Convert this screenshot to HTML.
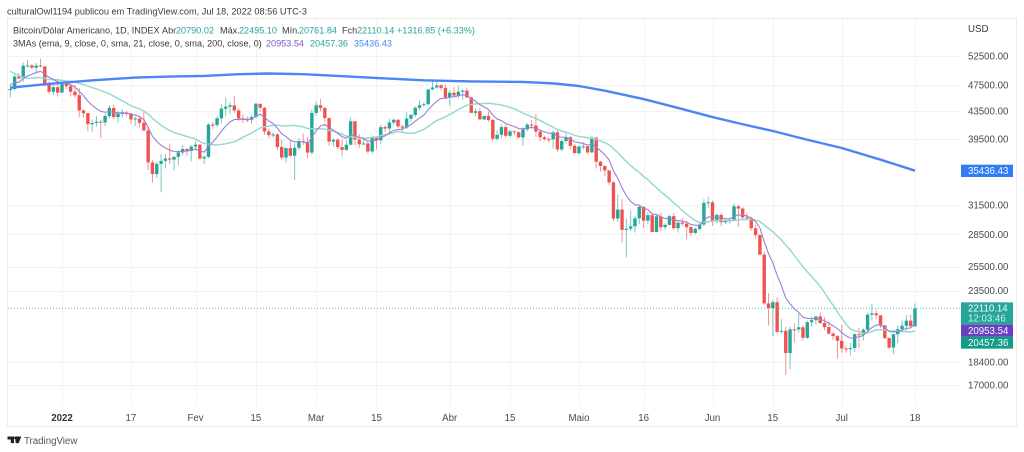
<!DOCTYPE html>
<html lang="pt">
<head>
<meta charset="utf-8">
<title>Bitcoin/Dólar Americano chart</title>
<style>
html,body{margin:0;padding:0;width:1024px;height:452px;overflow:hidden;background:#fff}
svg{display:block;filter:blur(0.35px);font-family:"Liberation Sans",sans-serif}
</style>
</head>
<body>
<svg id="chart" width="1024" height="452" viewBox="0 0 1024 452" xmlns="http://www.w3.org/2000/svg">
  <text x="7" y="14.5" font-size="9.2" fill="#3a3a3a">culturalOwl1194 publicou em TradingView.com, Jul 18, 2022 08:56 UTC-3</text>
  <rect x="7.5" y="18.5" width="1009" height="408" fill="none" stroke="#ececec" stroke-width="1"/>
  <g id="grid"></g>
  <g id="candles"></g>
  <g id="ma-lines"></g>
  <g id="price-axis"></g>
  <g id="time-axis"></g>

  <g font-size="9.1">
    <text x="13" y="33.3" fill="#3a3a3a">Bitcoin/Dólar Americano, 1D, INDEX</text>
    <text x="162" y="33.3" fill="#3a3a3a">Abr</text>
    <text x="176" y="33.3" fill="#26a69a">20790.02</text>
    <text x="220" y="33.3" fill="#3a3a3a">Máx.</text>
    <text x="239" y="33.3" fill="#26a69a">22495.10</text>
    <text x="282" y="33.3" fill="#3a3a3a">Mín.</text>
    <text x="299" y="33.3" fill="#26a69a">20761.84</text>
    <text x="342" y="33.3" fill="#3a3a3a">Fch</text>
    <text x="357" y="33.3" fill="#26a69a">22110.14</text>
    <text x="397" y="33.3" fill="#26a69a">+1316.85 (+6.33%)</text>
  </g>
  <g font-size="9.1">
    <text x="13" y="46.3" fill="#3a3a3a">3MAs (ema, 9, close, 0, sma, 21, close, 0, sma, 200, close, 0)</text>
    <text x="266" y="46.3" fill="#7e57c2">20953.54</text>
    <text x="310" y="46.3" fill="#26a69a">20457.36</text>
    <text x="354" y="46.3" fill="#4a86f5">35436.43</text>
  </g>

  <g>
    <path d="M7.5 436.5h6.5v6.6h-3.2v-3.6h-3.3zM15 436.5h6.3l-2.6 6.6h-3z" fill="#222"/>
    <circle cx="15.2" cy="438" r="1.2" fill="#222"/>
    <text x="24" y="444" font-size="9.7" fill="#555">TradingView</text>
  </g>
</svg>

<script>
// ---- chart data, one value per daily candle ----
const firstDay = -12; // days relative to 1 Jan 2022 (first candle is 20 Dec 2021)

const opens = [
46700,46880,48936,48628,50784,50822,50429,50809,50640,47588,46444,47178,
46306,47686,47345,46458,45897,43569,43160,41557,41733,41911,41821,42735,43949,42591,43099,43177,43113,42250,42375,41744,40680,36457,35030,36276,36654,36954,36813,37160,37716,38166,37917,
38483,38743,36952,37154,41500,41441,42406,43840,44118,44338,43565,42407,42244,42197,42586,44575,43961,40538,40030,40126,38431,37069,38286,37296,38332,39214,39105,37710,
43193,44354,43924,42454,39148,39400,38420,38062,38737,41982,39437,38794,38904,37849,39666,39338,41143,40951,41801,42190,41247,41077,42358,42892,43960,44348,44500,46820,47128,47465,47063,
45538,46281,45868,46453,46622,45555,43207,43449,42252,42753,42158,39530,40074,41147,39942,40552,40424,39716,40826,41502,41374,40527,39740,39470,39450,40426,38112,39235,39742,38596,
37630,38468,38525,37728,39690,36552,36013,35472,34038,30074,31017,28936,29047,29283,30101,31305,29862,30425,28720,30314,29200,29432,30323,29098,29655,29542,29201,28629,29031,29468,31734,
31801,29805,30452,29700,29865,29920,31373,31125,30204,30109,29091,28424,26574,22487,22136,22583,20401,20468,18970,20574,20573,20720,19987,21085,21231,21502,21027,20735,20280,20104,
19784,19269,19243,19297,20231,20190,20548,21637,21731,21592,20860,19970,19329,20234,20588,20830,21195,20790
];
const highs = [
47520,49300,49560,51360,51820,51100,51240,52040,50690,48100,47900,48540,
47830,47950,47540,47500,47050,43740,43120,42250,42740,42200,43100,44300,44400,43420,43770,43470,43180,42650,42560,43400,41100,36800,36560,37500,37500,38900,37220,38000,38700,38300,38700,
39250,38850,37400,41700,41900,42700,44500,45500,44800,45800,43900,43000,42700,42850,44700,44550,44100,40930,40400,40300,39400,38400,39200,38950,39650,40250,39800,43700,
44900,45300,44100,42500,39600,39640,39500,39300,42550,42000,40200,39500,39300,39900,39900,41500,41400,42300,42400,42300,41500,43350,43000,44200,45100,44800,46900,48150,48100,47700,47600,
46700,47200,47400,46900,47150,45700,43900,43950,42800,43400,42400,40700,41500,41500,40800,40700,40600,41100,41700,42150,43000,40800,39950,39800,40600,40800,39450,40400,39900,38800,
38700,39100,38650,40000,39850,36650,36100,35500,34250,32650,32150,30100,30950,30350,31400,31350,30750,30650,30500,30700,29600,30450,30650,29800,30150,29850,29350,29200,29550,32150,32400,
32000,30600,30650,29950,30150,31700,31500,31300,30650,30300,29450,28500,26850,23300,22750,22950,21300,20750,20750,21000,21700,20850,21200,21500,21550,21800,21450,21150,20400,20200,
20900,19450,19650,20300,20700,20650,21800,22450,22000,21600,20850,20000,20250,20850,21200,21600,21650,22495
];
const lows = [
45579,46640,48460,48060,50460,50200,49500,50460,47340,46100,45950,45690,
46260,46900,45700,45540,42600,42470,40560,40500,41240,39650,41280,42450,42300,41800,42570,42700,41550,41280,41100,40600,35500,34000,34600,32900,35700,36250,35500,36100,37300,37300,36600,
38000,36800,36250,37000,40900,41150,41650,42700,43100,43200,42000,41700,41850,41600,42450,43400,40100,39600,39700,38000,36800,36350,37100,34300,38000,38700,37000,37450,
42800,43400,41900,38600,38500,38100,37200,37900,38650,38600,38300,38700,37600,37600,38150,38850,40500,40200,41500,40950,40500,40900,41900,42600,43650,44100,44400,46700,46900,46600,45250,
44250,45600,45500,45200,45400,43150,42750,42150,42150,41900,39250,39300,39600,39600,39800,40050,39600,38600,40550,40900,39800,39200,39300,39000,38250,37800,37900,38900,38200,37600,
37400,38100,37500,37700,35700,35300,34800,33750,29800,29750,27700,26350,28800,28650,29500,29100,29500,28700,28700,28800,28950,29400,28900,28650,29350,28000,28300,28500,28850,29300,31200,
29350,29600,29300,29500,29550,29900,29250,29900,29950,28850,28100,26550,22400,20850,20100,20300,20300,17600,17950,19650,20350,19800,19900,20750,20900,20950,20500,20200,19850,18620,
19000,18980,18800,19050,19300,19800,20250,21200,21300,20650,19900,19250,18900,19620,20400,20500,20750,20762
];
const closes = [
46880,48936,48628,50784,50822,50429,50809,50640,47588,46444,47178,46306,
47686,47345,46458,45897,43569,43160,41557,41733,41911,41821,42735,43949,42591,43099,43177,43113,42250,42375,41744,40680,36457,35030,36276,36654,36954,36813,37160,37716,38166,37917,38483,
38743,36952,37154,41500,41441,42406,43840,44118,44338,43565,42407,42244,42197,42586,44575,43961,40538,40030,40126,38431,37069,38286,37296,38332,39214,39105,37710,43193,
44354,43924,42454,39148,39400,38420,38062,38737,41982,39437,38794,38904,37849,39666,39338,41143,40951,41801,42190,41247,41077,42358,42892,43960,44348,44500,46820,47128,47465,47063,45538,
46281,45868,46453,46622,45555,43207,43449,42252,42753,42158,39530,40074,41147,39942,40552,40424,39716,40826,41502,41374,40527,39740,39470,39450,40426,38112,39235,39742,38596,37630,
38468,38525,37728,39690,36552,36013,35472,34038,30074,31017,28936,29047,29283,30101,31305,29862,30425,28720,30314,29200,29432,30323,29098,29655,29542,29201,28629,29031,29468,31734,31801,
29805,30452,29700,29865,29920,31373,31125,30204,30109,29091,28424,26574,22487,22136,22583,20401,20468,18970,20574,20573,20720,19987,21085,21231,21502,21027,20735,20280,20104,19784,
19269,19243,19297,20231,20190,20548,21637,21731,21592,20860,19970,19329,20234,20588,20830,21195,20790,22110
];
const ema9Values = [
47600,47867,48019,48572,49022,49303,49604,49811,49366,48782,48461,48030,
47961,47838,47562,47229,46497,45830,44975,44327,43844,43439,43298,43428,43261,43229,43219,43198,43008,42881,42654,42259,41099,39885,39163,38661,38320,38019,37847,37821,37890,37895,38013,
38159,37918,37765,38512,39098,39760,40576,41284,41895,42229,42265,42261,42248,42316,42768,43007,42513,42016,41638,40997,40211,39826,39320,39122,39140,39133,38848,39717,
40644,41300,41531,41054,40723,40262,39822,39605,40080,39951,39720,39557,39215,39305,39312,39678,39933,40307,40684,40797,40853,41154,41502,41994,42465,42872,43662,44355,44977,45394,45423,
45595,45650,45811,45973,45889,45353,44972,44428,44093,43706,42871,42312,42079,41652,41432,41230,40927,40907,41026,41096,40982,40734,40481,40275,40305,39866,39740,39740,39511,39135,
39002,38907,38671,38875,38410,37931,37439,36759,35422,34541,33420,32545,31893,31535,31489,31164,31016,30557,30508,30246,30083,30131,29924,29870,29804,29683,29472,29384,29401,29868,30255,
30165,30222,30118,30067,30038,30305,30469,30416,30355,30102,29766,29128,27800,26667,25850,24760,23902,22916,22448,22073,21802,21439,21368,21341,21373,21304,21190,21008,20827,20618,
20348,20127,19961,20015,20050,20150,20447,20704,20882,20878,20696,20423,20385,20426,20507,20645,20674,20954
];
const sma21Values = [
49825,49441,49042,48770,48633,48692,48759,48766,48623,48430,48410,48372,
48295,48169,48157,48043,47794,47583,47362,47121,46893,46652,46357,46134,45744,45376,45031,44665,44265,44017,43793,43484,43015,42412,41885,41418,40992,40670,40384,40201,40031,39841,39682,
39492,39159,38900,38824,38741,38707,38783,38866,38990,39127,39410,39754,40036,40318,40681,41021,41182,41292,41385,41409,41342,41320,41336,41392,41283,41172,40948,40917,
40928,40908,40855,40700,40565,40385,40170,39892,39798,39746,39687,39629,39601,39725,39775,39958,40083,40206,40353,40521,40420,40325,40276,40348,40596,40839,41239,41671,42087,42329,42620,
42977,43309,43719,44050,44346,44444,44563,44584,44611,44654,44580,44471,44388,44197,44016,43822,43484,43184,42900,42629,42390,42079,41774,41441,41146,40792,40603,40426,40252,40008,
39832,39784,39672,39603,39442,39226,38990,38720,38208,37709,37117,36570,36072,35626,35238,34735,34369,33868,33419,32972,32582,32194,31745,31361,30878,30528,30176,29869,29651,29730,29767,
29808,29875,29895,29884,29818,29890,29923,29994,29984,29979,29931,29752,29437,29079,28748,28329,27940,27461,27037,26506,25978,25510,25064,24661,24263,23840,23333,22817,22336,21844,
21376,20939,20592,20485,20392,20295,20354,20414,20539,20553,20524,20458,20470,20446,20427,20412,20401,20457
];
// SMA 200 read at sample days along the curve
const sma200Days = [-12,-4,0,8,17,25,33,41,48,56,64,74,84,95,107,114,120,126,135,143,151,158,165,173,181,190,198];
const sma200Values = [47100,47650,47900,48350,48755,48920,49040,49325,49445,49320,49040,48650,48305,48120,48030,47800,47370,46615,45300,43940,42590,41550,40600,39400,38300,36800,35436];

const priceTicks = [52500,47500,43500,39500,31500,28500,25500,23500,18400,17000];
const timeTickDays = [0,16,31,45,59,73,90,104,120,135,151,165,181,198];
const timeTickLabels = ["2022","17","Fev","15","Mar","15","Abr","15","Maio","16","Jun","15","Jul","18"];
const lastPrice = 22110.14;
const countdown = "12:03:46";
const ema9Last = 20953.54;
const sma21Last = 20457.36;
const sma200Last = 35436.43;

// ---- axis functions ----
function xAt(day){ return 62 + 4.308 * day; }
function yAt(price){ return 56 + 291.8 * Math.log(52500 / price); }

const NS = "http://www.w3.org/2000/svg";
const UP = "#26a69a", DOWN = "#ef5350";
function make(tag, attrs, parent){
  const el = document.createElementNS(NS, tag);
  for (const k in attrs) el.setAttribute(k, attrs[k]);
  parent.appendChild(el);
  return el;
}
const grid = document.getElementById("grid");
const candles = document.getElementById("candles");
const maLines = document.getElementById("ma-lines");
const priceAxis = document.getElementById("price-axis");
const timeAxis = document.getElementById("time-axis");
const PLOT_L = 8, PLOT_R = 961, PLOT_B = 407;

// grid + price labels
priceTicks.forEach(function(p){
  const y = Math.round(yAt(p)) + 0.5;
  const line = make("line", {x1:PLOT_L, x2:PLOT_R, y1:y, y2:y, stroke:"#f3f3f3", "stroke-width":1}, grid);
  
  
  const t = make("text", {x:968, y:yAt(p)+3.5, "font-size":9.7, fill:"#4a4a4a"}, priceAxis);
  t.textContent = p.toFixed(2);
  
  
});
const usd = make("text", {x:968, y:32, "font-size":9.7, fill:"#3a3a3a"}, priceAxis);
usd.textContent = "USD";



// vertical grid + time labels
timeTickDays.forEach(function(d, i){
  const x = Math.round(xAt(d)) + 0.5;
  const line = make("line", {x1:x, x2:x, y1:19, y2:PLOT_B, stroke:"#f3f3f3", "stroke-width":1}, grid);
  
  
  const t = make("text", {x:xAt(d), y:421, "font-size":9.7, "text-anchor":"middle", fill: i === 0 ? "#333" : "#4a4a4a", "font-weight": i === 0 ? "bold" : "normal"}, timeAxis);
  t.textContent = timeTickLabels[i];
  
  
});

// last price dotted line
const lastLine = make("line", {x1:PLOT_L, x2:PLOT_R, y1:yAt(lastPrice), y2:yAt(lastPrice), stroke:UP, "stroke-width":1, "stroke-dasharray":"1 2", opacity:0.75}, grid);



// candles
closes.forEach(function(c, i){
  const o = opens[i], h = highs[i], l = lows[i];
  const day = firstDay + i;
  const x = xAt(day);
  const color = c >= o ? UP : DOWN;
  const wick = make("line", {x1:x, x2:x, y1:yAt(h), y2:yAt(l), stroke:color, "stroke-width":1, opacity:0.62}, candles);
  
  
  const top = yAt(Math.max(o, c));
  const bottom = yAt(Math.min(o, c));
  const body = make("rect", {x:x-1.7, y:top, width:3.4, height:Math.max(bottom-top, 1), fill:color}, candles);
  
  
});

// moving averages
function linePoints(days, values){
  return values.map(function(v, i){ return xAt(days(i)).toFixed(2) + "," + yAt(v).toFixed(2); }).join(" ");
}
const sma21Line = make("polyline", {points:linePoints(function(i){return firstDay+i;}, sma21Values), fill:"none", stroke:"#97dacd", "stroke-width":1.5, "stroke-linejoin":"round"}, maLines);


const emaLine = make("polyline", {points:linePoints(function(i){return firstDay+i;}, ema9Values), fill:"none", stroke:"#9a7fd6", "stroke-width":1.1, "stroke-linejoin":"round"}, maLines);


const sma200Line = make("polyline", {points:linePoints(function(i){return sma200Days[i];}, sma200Values), fill:"none", stroke:"#4a86f5", "stroke-width":2.4, "stroke-linejoin":"round"}, maLines);



// price tags (positions follow the axis, with stacking offsets as on the chart)
function tag(name, value, top, height, fill, extra){
  const r = make("rect", {x:961, y:top, width:52, height:height, fill:fill}, priceAxis);
  
  
  const t = make("text", {x:968, y:top+9.4, "font-size":9.7, fill:"#f2fbfa"}, priceAxis);
  t.textContent = value.toFixed(2);
  
  
  if (extra){
    const e = make("text", {x:968, y:top+19.4, "font-size":9.7, fill:"#cdeee9"}, priceAxis);
    e.textContent = extra;
    
    
  }
}
tag('sma200', sma200Last, yAt(sma200Last) - 6, 12.3, "#2f7cf6");
tag('last-price', lastPrice, yAt(lastPrice) - 6, 22.3, "#26a69a", countdown);
tag('ema9', ema9Last, yAt(lastPrice) + 16.3, 12, "#6a3fc0");
tag('sma21', sma21Last, yAt(lastPrice) + 28.3, 12, "#0f9d88");
</script>
</body>
</html>
